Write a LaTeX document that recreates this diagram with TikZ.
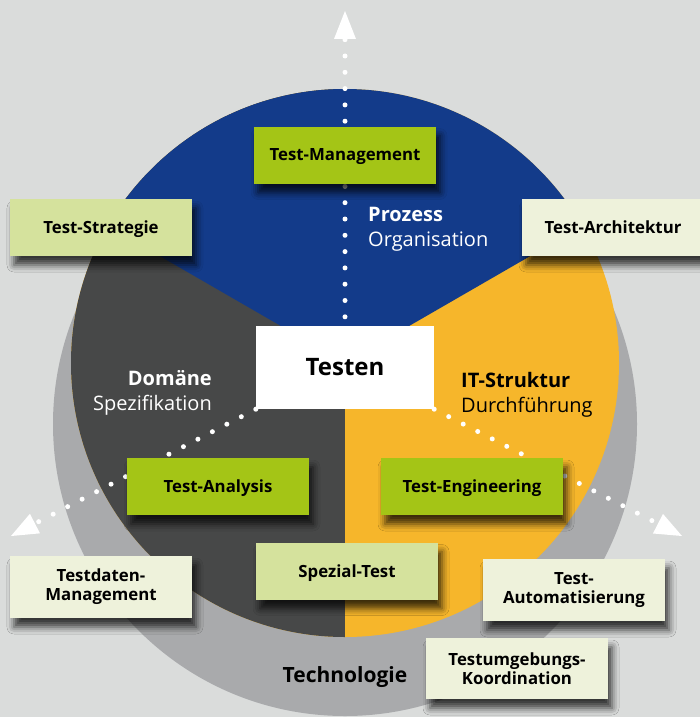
\documentclass[tikz,border=0pt]{standalone}
\usepackage{fontspec}
\setmainfont{Open Sans}
\usetikzlibrary{calc,shadows.blur}
\definecolor{bgC}{HTML}{DADCDB}
\definecolor{ringC}{HTML}{A9AAAC}
\definecolor{blueC}{HTML}{133B8A}
\definecolor{darkC}{HTML}{474848}
\definecolor{orangeC}{HTML}{F6B62B}
\definecolor{greenC}{HTML}{A4C516}
\definecolor{lightC}{HTML}{D5E29D}
\definecolor{paleC}{HTML}{EEF2DB}
\begin{document}
\begin{tikzpicture}[x=1pt,y=-1pt,
  card/.style={minimum width=182pt, minimum height=57pt, inner sep=0pt, align=center,
    font=\bfseries\fontsize{16.8}{19}\selectfont, text=black,
    blur shadow={shadow xshift=4pt, shadow yshift=-9pt, shadow blur radius=7pt, shadow opacity=75}},
  oneline/.style={text depth=0pt},
  greencard/.style={card, fill=greenC},
  lightcard/.style={card, fill=lightC},
  palecard/.style={card, fill=paleC},
  dotline/.style={draw=white, line width=5pt, line cap=round, dash pattern=on 0pt off 16.3pt},
  tiphead/.style={fill=white},
  bigword/.style={font=\bfseries\fontsize{20}{24}\selectfont, inner sep=0pt},
  smallword/.style={font=\fontsize{20}{24}\selectfont, inner sep=0pt}
]
\useasboundingbox (0,0) rectangle (700,717);
\fill[bgC] (0,0) rectangle (700,717);
% outer ring
\fill[ringC] (345,424) circle[radius=292pt];
% pie
\begin{scope}
  \clip (345,363) circle[radius=274pt];
  \fill[orangeC] (-10,-10) rectangle (710,727);
  \fill[darkC] (-10,-10) rectangle (345,727);
  \fill[blueC] (345,363) -- (820.4,88.5) -- (820.4,-100) -- (-130.4,-100) -- (-130.4,88.5) -- cycle;
\end{scope}

% centre node
\node[minimum width=178pt, minimum height=83pt, inner sep=0pt, fill=white,
  font=\bfseries\fontsize{24}{28}\selectfont] (testen) at (345,367.5) {Testen};

% arrow tips
\coordinate (tipN) at (345,11);
\coordinate (tipSW) at (11,536);
\coordinate (tipSE) at (682,536);

% dotted connectors
\draw[dotline, dash phase=7.3pt] (testen.north) -- ($(tipN)!26pt!(testen.north)$);
\draw[dotline] (testen.south west) -- ($(tipSW)!25pt!(testen.south west)$);
\draw[dotline] (testen.south east) -- ($(tipSE)!25pt!(testen.south east)$);
\fill[tiphead] (tipN) -- ($(tipN)!28pt!(testen.north)!11pt!90:(tipN)$) -- ($(tipN)!28pt!(testen.north)!11pt!-90:(tipN)$) -- cycle;
\fill[tiphead] (tipSW) -- ($(tipSW)!27pt!(testen.south west)!11pt!90:(tipSW)$) -- ($(tipSW)!27pt!(testen.south west)!11pt!-90:(tipSW)$) -- cycle;
\fill[tiphead] (tipSE) -- ($(tipSE)!27pt!(testen.south east)!11pt!90:(tipSE)$) -- ($(tipSE)!27pt!(testen.south east)!11pt!-90:(tipSE)$) -- cycle;

% sector labels
\node[bigword, text=white, anchor=base west] (prozess) at (368,221) {Prozess};
\node[smallword, text=white, anchor=base west] (organisation) at (368,246) {Organisation};
\node[bigword, text=white, anchor=base east] (domaene) at (212,385) {Domäne};
\node[smallword, text=white, anchor=base east] (spezifikation) at (212,410) {Spezifikation};
\node[bigword, text=black, anchor=base west] (itstruktur) at (461,387.5) {IT-Struktur};
\node[smallword, text=black, anchor=base west] (durchfuehrung) at (461,412) {Durchführung};
\node[bigword, text=black, anchor=base, font=\bfseries\fontsize{21}{25}\selectfont] (technologie) at (345,682) {Technologie};

% cards
\node[greencard, oneline] (mgmt) at (345,155) {Test-Management};
\node[lightcard, oneline] (strategie) at (101,227.5) {Test-Strategie};
\node[palecard, oneline] (architektur) at (613,227.5) {Test-Architektur};
\node[greencard, oneline] (analysis) at (218,486.5) {Test-Analysis};
\node[greencard, oneline] (engineering) at (472,486.5) {Test-Engineering};
\node[lightcard, oneline] (spezial) at (347,571) {Spezial-Test};
\node[palecard, minimum height=62pt] (testdaten) at (101,587) {Testdaten-\\Management};
\node[palecard, minimum height=62pt] (automat) at (574,590) {Test-\\Automatisierung};
\node[palecard, minimum height=61pt] (umgebung) at (517,668.5) {Testumgebungs-\\Koordination};
\end{tikzpicture}
\end{document}
